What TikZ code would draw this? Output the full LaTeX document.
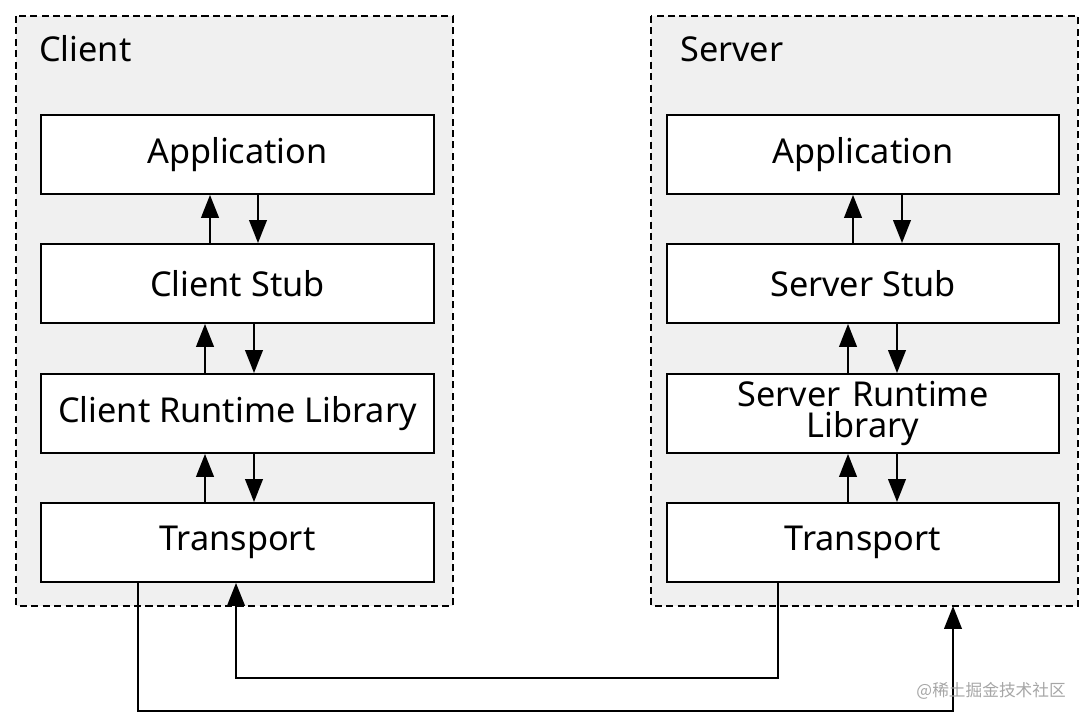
\documentclass[tikz,border=0pt]{standalone}
\usepackage{fontspec}
\setmainfont{Noto Sans}
\newfontfamily\cjk{Noto Sans CJK SC}
\usetikzlibrary{arrows.meta}
\begin{document}
\begin{tikzpicture}[x=0.02cm,y=-0.02cm,
  grp/.style={draw,dash pattern=on 4pt off 2.5pt,line width=1.1pt,fill=black!6},
  box/.style={draw,line width=1.1pt,fill=white,minimum width=7.86cm,minimum height=1.58cm,font=\fontsize{19.5}{22}\selectfont,align=center,anchor=north west,inner sep=0pt},
  arr/.style={-{Triangle[length=13pt,width=10pt]},line width=1.1pt},
  ttl/.style={font=\fontsize{19.5}{22}\selectfont,anchor=west}]
\useasboundingbox (0,0) rectangle (1088,722);
\draw[grp] (16,16) rectangle (453,606);
\draw[grp] (651,16) rectangle (1078,606);
\node[ttl] (ct) at (33,49) {Client};
\node[ttl] (st) at (674,49) {Server};
\node[box] (ca) at (40,114) {Application};
\node[box] (cs) at (40,243) {Client Stub};
\node[box] (cr) at (40,373) {Client Runtime Library};
\node[box] (cx) at (40,502) {Transport};
\node[box,minimum width=7.84cm] (sa) at (666,114) {Application};
\node[box,minimum width=7.84cm] (ss) at (666,243) {Server Stub};
\node[box,minimum width=7.84cm,text width=5.5cm] (sr) at (666,373) {Server Runtime\\[-4pt]Library};
\node[box,minimum width=7.84cm] (sx) at (666,502) {Transport};
% vertical arrows
\draw[arr] (cs.north -| 210,0) -- (ca.south -| 210,0);
\draw[arr] (ca.south -| 258,0) -- (cs.north -| 258,0);
\draw[arr] (cr.north -| 205,0) -- (cs.south -| 205,0);
\draw[arr] (cs.south -| 254,0) -- (cr.north -| 254,0);
\draw[arr] (cx.north -| 205,0) -- (cr.south -| 205,0);
\draw[arr] (cr.south -| 254,0) -- (cx.north -| 254,0);
\draw[arr] (ss.north -| 853,0) -- (sa.south -| 853,0);
\draw[arr] (sa.south -| 902,0) -- (ss.north -| 902,0);
\draw[arr] (sr.north -| 848,0) -- (ss.south -| 848,0);
\draw[arr] (ss.south -| 897,0) -- (sr.north -| 897,0);
\draw[arr] (sx.north -| 848,0) -- (sr.south -| 848,0);
\draw[arr] (sr.south -| 897,0) -- (sx.north -| 897,0);
% bottom links
\coordinate (sg) at (953,606);
\draw[arr] (cx.south -| 138,0) -- (138,711) -- (953,711) -- (sg);
\draw[arr] (sx.south -| 778,0) -- (778,678) -- (236,678) -- (cx.south -| 236,0);
\node[font=\cjk\fontsize{9.5}{10}\selectfont,text=black!35,anchor=east] (wm) at (1072,691) {@稀土掘金技术社区};
\end{tikzpicture}
\end{document}
